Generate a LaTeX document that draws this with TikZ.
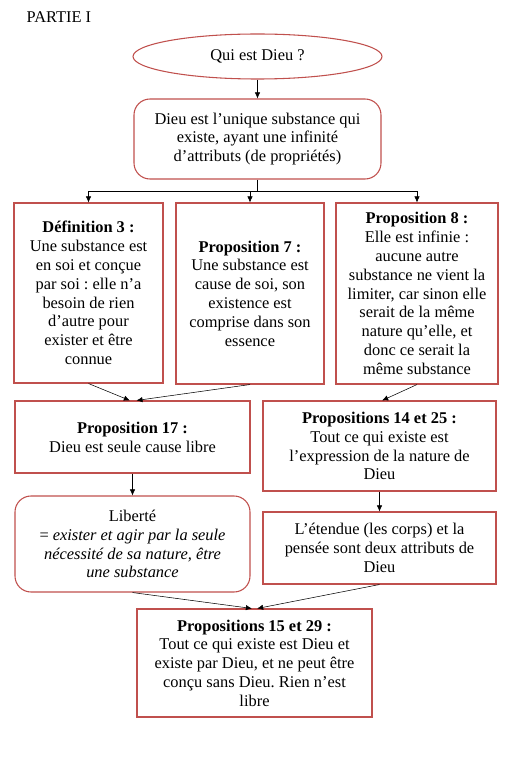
\documentclass[tikz,border=0pt]{standalone}
\usepackage{fontspec}
\setmainfont{Liberation Serif}
\usetikzlibrary{shapes.geometric,arrows.meta}
\definecolor{bord}{RGB}{192,80,77}
\frenchspacing
\begin{document}
\begin{tikzpicture}[x=0.75pt, y=-0.75pt, >={Latex[length=4.5pt,width=4pt]},
            every node/.style={align=center, font=\fontsize{12.3}{14.1}\selectfont},
            boite/.style={draw=bord, line width=0.8pt, inner sep=2pt},
            arrondi/.style={boite, rounded corners=12pt}]
            \useasboundingbox (0,0) rectangle (517,759);
            \node[anchor=base west] (titre) at (22,23) {PARTIE I};
            \node[boite, ellipse, minimum width=186.75pt, minimum height=33.75pt] (q) at (257.5,56.5) {Qui est Dieu ?};
            \node[arrondi, minimum width=185.25pt, minimum height=60pt] (dieu) at (257.5,139) {Dieu est l’unique substance qui\\existe, ayant une infinité\\d’attributs (de propriétés)};
            \node[boite, minimum width=111.75pt, minimum height=135pt] (def3) at (88.5,293) {\textbf{Définition 3 :}\\Une substance est\\en soi et conçue\\par soi : elle n’a\\besoin de rien\\d’autre pour\\exister et être\\connue};
            \node[boite, minimum width=111pt, minimum height=135.75pt] (prop7) at (250,293.5) {\textbf{Proposition 7 :}\\Une substance est\\cause de soi, son\\existence est\\comprise dans son\\essence};
            \node[boite, minimum width=121.5pt, minimum height=135.75pt] (prop8) at (417,293.5) {\textbf{Proposition 8 :}\\Elle est infinie :\\aucune autre\\substance ne vient la\\limiter, car sinon elle\\serait de la même\\nature qu’elle, et\\donc ce serait la\\même substance};
            \node[boite, minimum width=176.25pt, minimum height=54pt] (prop17) at (132.5,437) {\textbf{Proposition 17 :}\\Dieu est seule cause libre};
            \node[boite, minimum width=174.75pt, minimum height=67.5pt] (prop14) at (379.5,446) {\textbf{Propositions 14 et 25 :}\\Tout ce qui existe est\\l’expression de la nature de\\Dieu};
            \node[arrondi, minimum width=176.25pt, minimum height=72pt] (liberte) at (132.5,544) {Liberté\\= \textit{exister et agir par la seule}\\\textit{nécessité de sa nature, être}\\\textit{une substance}};
            \node[boite, minimum width=174.75pt, minimum height=54pt] (etendue) at (379.5,548) {L’étendue (les corps) et la\\pensée sont deux attributs de\\Dieu};
            \node[boite, minimum width=176.25pt, minimum height=81pt] (prop15) at (254.5,663) {\textbf{Propositions 15 et 29 :}\\Tout ce qui existe est Dieu et\\existe par Dieu, et ne peut être\\conçu sans Dieu. Rien n’est\\libre};
            \coordinate (fourche) at (257.5,191);

            \draw[->] (q) -- (dieu);
            \draw (dieu) -- (fourche);
            \draw[->] (fourche) -| (def3);
            \draw[->] (fourche) -| (prop7);
            \draw[->] (fourche) -| (prop8);
            \draw[->] (def3.south) -- ([xshift=-2pt]prop17.north);
            \draw[->] (prop7.south) -- ([xshift=3pt]prop17.north);
            \draw[->] (prop8.south) -- ([xshift=2pt]prop14.north);
            \draw[->] (prop17) -- (liberte);
            \draw[->] (prop14) -- (etendue);
            \draw[->] (liberte.south) -- ([xshift=-2pt]prop15.north);
            \draw[->] (etendue.south) -- ([xshift=2pt]prop15.north);
\end{tikzpicture}
\end{document}
